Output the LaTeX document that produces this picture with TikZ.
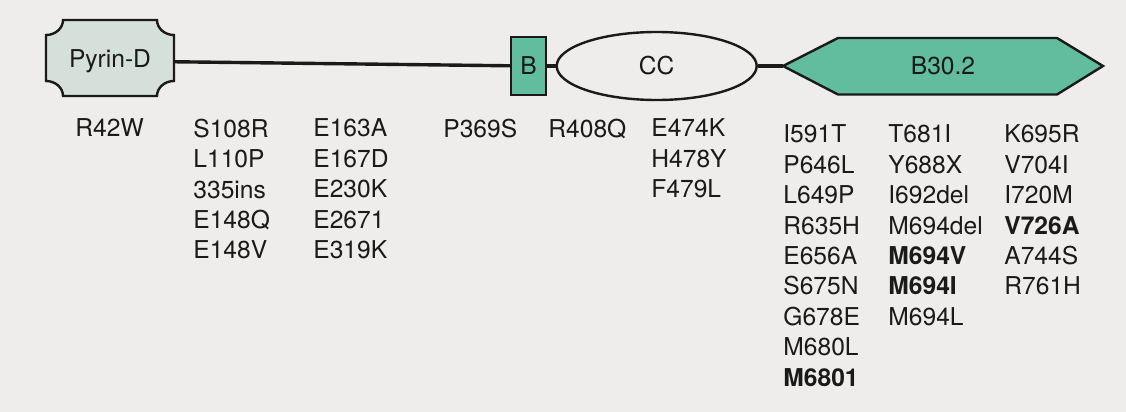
\documentclass[tikz,border=0pt]{standalone}
\usepackage{fontspec}
\setmainfont{TeX Gyre Heros}
\usetikzlibrary{shapes.geometric}
\definecolor{bgpaper}{HTML}{EEEDEB}
\definecolor{domgreen}{HTML}{62BD9E}
\definecolor{pyrinfill}{HTML}{D6E0DA}
\definecolor{ink}{HTML}{1A1A1A}
\newcommand\mutfont{\fontsize{12.3}{15.2}\selectfont}
\begin{document}
\begin{tikzpicture}[x=0.5pt,y=-0.5pt,
  mut/.style={anchor=north west, inner sep=0pt, align=left, font=\mutfont, text=ink},
  conn/.style={line width=1.7pt, draw=ink},
  dom/.style={draw=ink, line width=1.2pt},
  lbl/.style={font=\mutfont, text=ink, inner sep=0pt}]
\fill[bgpaper] (0,0) rectangle (1126,412);
\useasboundingbox (0,0) rectangle (1126,412);

% Pyrin-D domain (concave corners)
\draw[dom, fill=pyrinfill] (63,20) -- (157,20)
  .. controls (157,28.3) and (164.6,35) .. (174,35) -- (174,81)
  .. controls (164.6,81) and (157,87.7) .. (157,96) -- (63,96)
  .. controls (63,87.7) and (55.4,81) .. (46,81) -- (46,35)
  .. controls (55.4,35) and (63,28.3) .. (63,20) -- cycle;
\node[lbl, minimum width=64pt, minimum height=34pt] (pyrin) at (110,61) {Pyrin-D};

% B box
\node[dom, lbl, fill=domgreen, minimum width=17.5pt, minimum height=29pt] (b) at (528.5,66) {B};

% CC ellipse
\node[dom, lbl, ellipse, fill=bgpaper, minimum width=100pt, minimum height=34pt] (cc) at (656.7,66) {CC};

% B30.2 hexagon
\draw[dom, fill=domgreen] (783,66) -- (838,38) -- (1057,38) -- (1103,66) -- (1057,94.5) -- (838,94.5) -- cycle;
\node[lbl, minimum width=160pt, minimum height=28pt] (b302) at (943,66) {B30.2};

% connectors
\draw[conn] (pyrin) -- (b);
\draw[conn] (b) -- (cc);
\draw[conn] (cc) -- (b302);

% mutations
\node[mut] (m1) at (75,118.5) {R42W};
\node[mut] (m2) at (193,118.5) {S108R\\L110P\\335ins\\E148Q\\E148V};
\node[mut] (m3) at (313,118.5) {E163A\\E167D\\E230K\\E2671\\E319K};
\node[mut] (m4) at (443,118.5) {P369S};
\node[mut] (m5) at (548,118.5) {R408Q};
\node[mut] (m6) at (651,118.5) {E474K\\H478Y\\F479L};
\node[mut] (m7) at (783,124.5) {I591T\\P646L\\L649P\\R635H\\E656A\\S675N\\G678E\\M680L\\\textbf{M6801}};
\node[mut] (m8) at (888,124.5) {T681I\\Y688X\\I692del\\M694del\\\textbf{M694V}\\\textbf{M694I}\\M694L};
\node[mut] (m9) at (1004,124.5) {K695R\\V704I\\I720M\\\textbf{V726A}\\A744S\\R761H};
\end{tikzpicture}
\end{document}
